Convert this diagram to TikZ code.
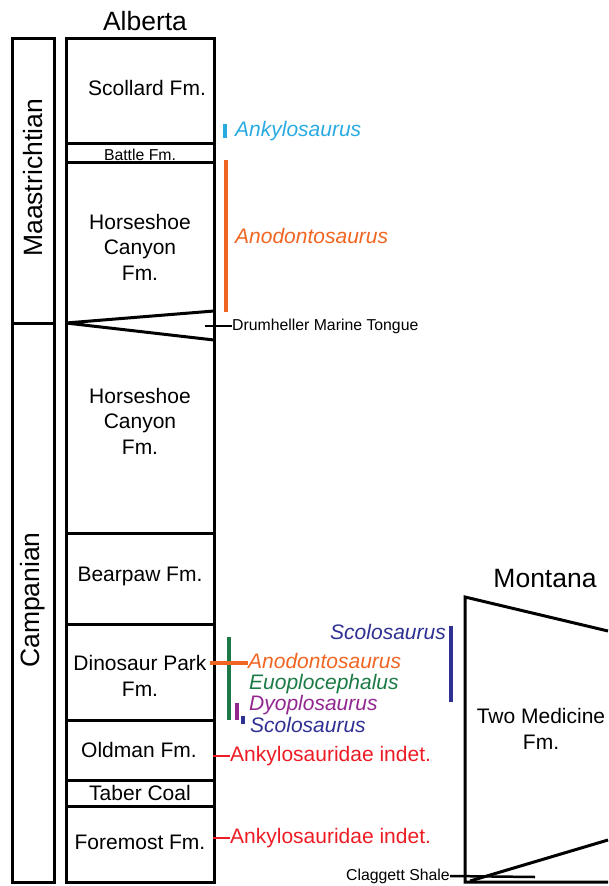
\documentclass[tikz,border=0pt]{standalone}
\usepackage{fontspec}
\setmainfont{Liberation Sans}
\usepackage{xcolor}
\usetikzlibrary{positioning}
\definecolor{ankyCyan}{RGB}{41,171,226}
\definecolor{anoOrange}{RGB}{241,101,34}
\definecolor{euoGreen}{RGB}{28,122,70}
\definecolor{dyoPurple}{RGB}{146,39,143}
\definecolor{scoBlue}{RGB}{46,49,146}
\definecolor{indetRed}{RGB}{237,28,36}

\begin{document}
\begin{tikzpicture}[x=1pt, y=-1pt,
			% colonnes et limites
			cadre/.style={draw=black, line width=3pt},
			formation/.style={align=center, inner sep=0pt, font=\fontsize{21}{25.5}\selectfont},
			petit/.style={inner sep=0pt, font=\fontsize{15.8}{18}\selectfont},
			region/.style={inner sep=0pt, font=\fontsize{26.5}{30}\selectfont},
			% taxons
			taxon/.style={inner sep=0pt, text height=15pt, text depth=4pt, font=\fontsize{21}{24}\selectfont\itshape},
			indet/.style={inner sep=0pt, text height=15pt, text depth=4pt, font=\fontsize{21}{24}\selectfont, indetRed},
			barre/.style={line width=4pt},
			trait/.style={line width=2.5pt},
			]

			\useasboundingbox (0,0) rectangle (608,886);

			% etages
			\draw[cadre] (12,38) rectangle (54,882);
			\draw[cadre] (12,323) -- (54,323);
			\node[region, rotate=90] (maas) at (33,178) {Maastrichtian};
			\node[region, rotate=90] (camp) at (33,600) {Campanian};

			% Alberta
			\node[region] (alberta) at (145,21) {Alberta};
			\draw[cadre] (66,38) rectangle (214,882);
			\foreach \y in {143,162,533,624,720,780,806}
				\draw[cadre] (66,\y) -- (214,\y);
			\draw[cadre] (214,311) -- (66,323) -- (214,340);

			\node[formation] (scollard) at (147,88) {Scollard Fm.};
			\node[petit] (battle) at (140,155) {Battle Fm.};
			\node[formation] (hcHaut) at (140,247) {Horseshoe\\Canyon\\Fm.};
			\node[formation] (hcBas) at (140,421) {Horseshoe\\Canyon\\Fm.};
			\node[formation] (bearpaw) at (140,576) {Bearpaw Fm.};
			\node[formation] (dinoPark) at (140,676) {Dinosaur Park\\Fm.};
			\node[formation] (oldman) at (139,750) {Oldman Fm.};
			\node[formation] (taber) at (140,793) {Taber Coal};
			\node[formation] (foremost) at (140,842) {Foremost Fm.};

			\coordinate (drumBord) at (205,326);
			\node[petit, anchor=west] (drum) at (232,326) {Drumheller Marine Tongue};
			\draw[trait] (drumBord) -- (drum.west);

			% Montana
			\node[region] (montana) at (545,579) {Montana};
			\draw[cadre] (608,631) -- (465,597) -- (465,882) -- (608,882);
			\draw[cadre] (470,881) -- (608,840);
			\node[formation] (twoMed) at (541,729) {Two Medicine\\Fm.};
			\coordinate (claggBout) at (535,877);
			\node[petit, anchor=east] (clagg) at (450,876) {Claggett Shale};
			\draw[trait] (clagg.east) -- (claggBout);

			% taxons du haut
			\draw[barre, ankyCyan] (225,124) -- (225,138);
			\node[taxon, ankyCyan, anchor=west] (ankylo) at (235,131) {Ankylosaurus};
			\draw[barre, anoOrange] (226,160) -- (226,312);
			\node[taxon, anoOrange, anchor=west] (anoHaut) at (235,238) {Anodontosaurus};

			% taxons de Dinosaur Park
			\draw[barre, euoGreen] (229,637) -- (229,720);
			\node[taxon, anoOrange, anchor=west] (anoBas) at (248,663) {Anodontosaurus};
			\draw[line width=3.5pt, anoOrange] (210,663) -- (anoBas.west);
			\node[taxon, euoGreen, anchor=west] (euo) at (249,684) {Euoplocephalus};
			\draw[barre, dyoPurple] (237,703) -- (237,720);
			\node[taxon, dyoPurple, anchor=west] (dyo) at (249,705) {Dyoplosaurus};
			\draw[barre, scoBlue] (243,716) -- (243,724);
			\node[taxon, scoBlue, anchor=west] (scoBas) at (250,727) {Scolosaurus};
			\draw[barre, scoBlue] (451,626) -- (451,702);
			\node[taxon, scoBlue, anchor=east] (scoHaut) at (446,634) {Scolosaurus};

			% Ankylosauridae indet.
			\coordinate (oldBord) at (213,756);
			\node[indet, anchor=west] (indetOld) at (230,756) {Ankylosauridae indet.};
			\draw[trait, indetRed] (oldBord) -- (indetOld.west);
			\coordinate (foreBord) at (213,838);
			\node[indet, anchor=west] (indetFore) at (230,838) {Ankylosauridae indet.};
			\draw[trait, indetRed] (foreBord) -- (indetFore.west);

		\end{tikzpicture}
\end{document}
